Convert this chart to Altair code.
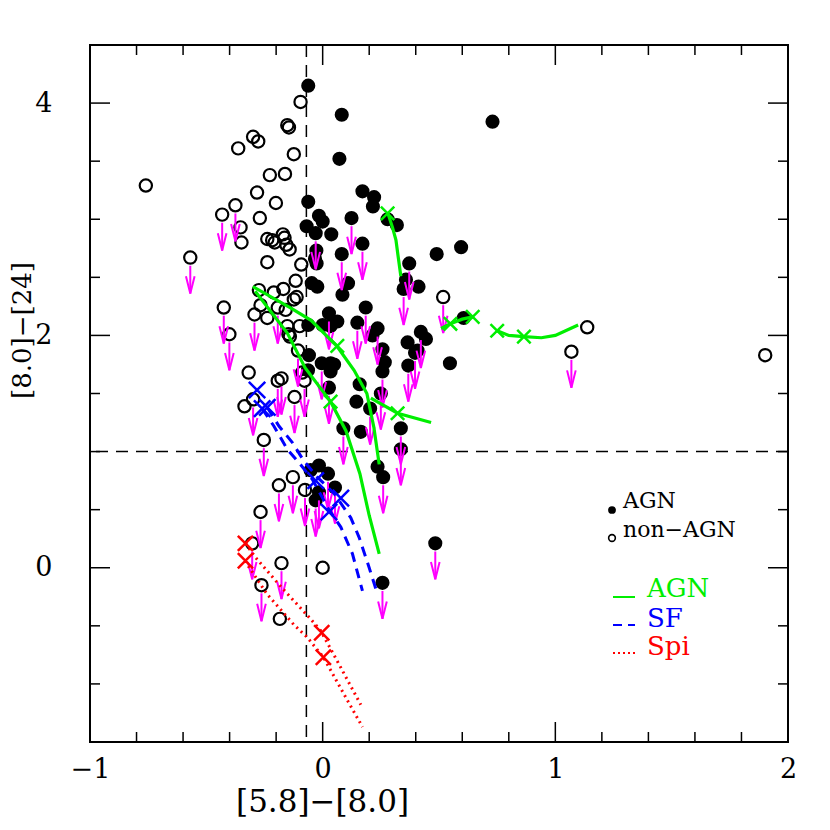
import altair as alt
import pandas as pd

# ---------------- data ----------------
# non-AGN sources (open circles); lim = 1 -> upper limit in [8.0]-[24]
open_x = [-0.76, -0.095, -0.152, -0.145, -0.299, -0.277, -0.363, -0.124, -0.227, -0.162,
          -0.282, -0.201, -0.375, -0.432, -0.270, -0.353, -0.349, -0.569, -0.238, -0.217,
          -0.206, -0.171, -0.164, -0.156, -0.142, -0.238, -0.092, -0.116, -0.274, -0.210,
          -0.169, -0.124, -0.112, -0.267, -0.293, -0.193, -0.159, -0.238, -0.425, -0.401,
          -0.152, -0.099, -0.147, -0.141, -0.106, -0.318, -0.193, -0.177, -0.078, -0.088,
          -0.121, -0.299, -0.336, -0.253, -0.128, -0.188, -0.076, -0.267, -0.303, -0.177,
          0.000, -0.263, -0.184, 0.518, 1.137, 1.069, 1.902]
open_y = [3.29, 4.01, 3.81, 3.79, 3.71, 3.67, 3.61, 3.56, 3.38, 3.39,
          3.23, 3.14, 3.12, 3.04, 3.01, 2.93, 2.80, 2.67, 2.83, 2.82,
          2.80, 2.87, 2.84, 2.78, 2.74, 2.63, 2.61, 2.47, 2.39, 2.37,
          2.40, 2.31, 2.33, 2.26, 2.18, 2.24, 2.22, 2.15, 2.24, 2.01,
          2.08, 2.08, 2.01, 1.99, 1.87, 1.68, 1.61, 1.63, 1.61, 1.68,
          1.47, 1.45, 1.39, 1.10, 0.78, 0.71, 0.67, 0.48, 0.21, 0.04,
          0.00, -0.15, -0.44, 2.33, 2.07, 1.86, 1.83]
open_lim = [0, 0, 0, 0, 0, 0, 0, 0, 0, 0,
            0, 0, 1, 1, 0, 0, 0, 1, 0, 0,
            0, 0, 0, 0, 0, 0, 0, 0, 0, 0,
            0, 0, 0, 0, 1, 1, 0, 0, 1, 1,
            0, 0, 0, 0, 1, 0, 1, 1, 1, 0,
            1, 1, 0, 1, 1, 1, 1, 1, 1, 1,
            0, 1, 0, 1, 0, 1, 0]

# AGN sources (filled circles)
agn_x = [-0.062, 0.082, 0.072, 0.730, 0.171, 0.221, 0.216, -0.062, -0.016, 0.000,
         0.124, -0.069, -0.030, 0.037, 0.279, 0.319, 0.171, -0.027, -0.033, -0.026,
         0.082, 0.109, -0.047, -0.023, 0.085, 0.372, 0.358, 0.348, 0.412, 0.490,
         0.595, 0.606, 0.185, 0.149, 0.027, 0.000, 0.034, 0.063, -0.062, 0.236,
         0.214, 0.422, 0.444, 0.365, 0.257, 0.267, 0.257, 0.397, 0.408, 0.368,
         0.547, -0.059, -0.063, -0.004, 0.034, 0.049, 0.034, 0.027, 0.159, 0.145,
         0.204, 0.250, 0.089, 0.164, 0.336, 0.336, 0.236, 0.260, -0.052, -0.016,
         0.023, 0.053, -0.016, -0.030, 0.484, 0.257]
agn_y = [4.15, 3.90, 3.52, 3.84, 3.24, 3.19, 3.11, 3.15, 3.03, 2.98,
         3.01, 2.94, 2.88, 2.87, 3.00, 2.95, 2.79, 2.73, 2.66, 2.62,
         2.70, 2.45, 2.45, 2.42, 2.35, 2.62, 2.48, 2.40, 2.42, 2.70,
         2.76, 2.15, 2.24, 2.11, 2.19, 2.09, 2.08, 2.12, 2.09, 2.06,
         2.00, 2.03, 1.97, 1.94, 1.88, 1.77, 1.69, 1.85, 1.87, 1.74,
         1.76, 1.83, 1.70, 1.76, 1.76, 1.75, 1.69, 1.55, 1.58, 1.43,
         1.37, 1.50, 1.20, 1.17, 1.20, 1.02, 0.87, 0.78, 0.84, 0.88,
         0.81, 0.69, 0.65, 0.58, 0.21, -0.13]
agn_lim = [0, 0, 0, 0, 0, 0, 0, 0, 0, 0,
           1, 0, 1, 0, 0, 0, 1, 0, 0, 0,
           1, 0, 0, 0, 0, 1, 0, 1, 0, 0,
           0, 0, 1, 1, 1, 0, 0, 0, 0, 1,
           0, 1, 0, 0, 0, 0, 1, 1, 0, 1,
           0, 0, 0, 1, 0, 0, 0, 1, 0, 0,
           1, 1, 1, 0, 1, 1, 0, 1, 0, 0,
           1, 1, 1, 1, 1, 1]

# AGN model tracks (green)
agn_trk_id = ["a1"] * 5 + ["a2"] * 8 + ["a3"] * 8 + ["a4"] * 3 + ["a5"] * 4 + ["a6"] * 6
agn_trk_x = [0.279, 0.300, 0.315, 0.325, 0.336,
             -0.300, -0.140, -0.050, 0.060, 0.135, 0.190, 0.220, 0.243,
             -0.290, -0.152, -0.075, 0.034, 0.100, 0.160, 0.200, 0.243,
             0.207, 0.322, 0.466,
             0.509, 0.549, 0.600, 0.645,
             0.750, 0.800, 0.865, 0.940, 1.000, 1.098]
agn_trk_y = [3.06, 2.93, 2.82, 2.67, 2.51,
             2.42, 2.24, 2.13, 1.91, 1.70, 1.50, 1.21, 0.89,
             2.38, 2.02, 1.72, 1.43, 1.18, 0.81, 0.45, 0.12,
             1.46, 1.33, 1.25,
             2.06, 2.10, 2.14, 2.16,
             2.04, 2.00, 1.99, 1.98, 2.00, 2.09]
agn_mark_x = [0.279, 0.063, 0.034, 0.322, 0.549, 0.645, 0.750, 0.865]
agn_mark_y = [3.05, 1.91, 1.43, 1.33, 2.10, 2.16, 2.04, 1.99]

# star-forming tracks (blue dashed)
sf_trk_id = ["s1"] * 9 + ["s2"] * 10
sf_trk_x = [-0.260, -0.210, -0.152, -0.100, -0.044, 0.027, 0.078, 0.128, 0.171,
            -0.238, -0.188, -0.131, -0.081, -0.023, 0.049, 0.121, 0.157, 0.200, 0.236]
sf_trk_y = [1.37, 1.22, 1.02, 0.90, 0.76, 0.50, 0.35, 0.12, -0.20,
            1.38, 1.22, 1.08, 0.92, 0.78, 0.64, 0.43, 0.26, 0.00, -0.23]
sf_mark_x = [-0.282, -0.260, -0.238, -0.030, 0.078, 0.027]
sf_mark_y = [1.53, 1.37, 1.38, 0.75, 0.60, 0.48]

# spiral tracks (red dotted)
spi_trk_id = ["p1"] * 7 + ["p2"] * 8
spi_trk_x = [-0.332, -0.289, -0.181, -0.066, -0.009, 0.078, 0.164,
             -0.332, -0.325, -0.238, -0.124, -0.066, 0.003, 0.092, 0.171]
spi_trk_y = [0.21, 0.09, -0.16, -0.41, -0.54, -0.86, -1.18,
             0.06, 0.03, -0.23, -0.49, -0.60, -0.77, -1.09, -1.37]
spi_mark_x = [-0.332, -0.332, -0.004, 0.003]
spi_mark_y = [0.21, 0.06, -0.56, -0.77]

# selection cuts
cut_x = [-0.07]
cut_y = [1.0]

# axis ticks
x_major = [-1, 0, 1, 2]
x_minor = [-0.8, -0.6, -0.4, -0.2, 0.2, 0.4, 0.6, 0.8, 1.2, 1.4, 1.6, 1.8]
y_major = [0, 2, 4]
y_minor = [-1.0, -0.5, 0.5, 1.0, 1.5, 2.5, 3.0, 3.5]

# ---------------- chart ----------------
W, H = 698, 697
FONT = "DejaVu Serif"
GREEN, BLUE, RED, MAG = "#00ee00", "#0000ff", "#ff0000", "#ff00ff"
XSHAPE = "M -1 -1 L 1 1 M -1 1 L 1 -1"
VHEAD = "M -1 -4 L 0 0 L 1 -4"

xs = alt.Scale(domain=[-1, 2], nice=False, zero=False)
ys = alt.Scale(domain=[-1.5, 4.5], nice=False, zero=False)

x_axis = alt.Axis(values=x_major, format="d", ticks=False, tickSize=0, domain=False, grid=False,
                  labelFlush=False, labelOverlap=False,
                  labelFont=FONT, labelFontSize=27, labelPadding=14, labelColor="black",
                  title="[5.8]−[8.0]", titleFont=FONT, titleFontSize=31, titleFontWeight="normal",
                  titleColor="black", titleX=232, titlePadding=5)
y_axis = alt.Axis(values=y_major, format="d", ticks=False, tickSize=0, domain=False, grid=False,
                  labelFlush=False, labelOverlap=False,
                  labelFont=FONT, labelFontSize=27, labelPadding=38, labelColor="black",
                  title="[8.0]−[24]", titleFont=FONT, titleFontSize=26, titleFontWeight="normal",
                  titleColor="black", titleY=285, titleX=-55, titleBaseline="bottom", titleAngle=270)


def XF(field):
    return alt.X(field, scale=xs, axis=x_axis)


def YF(field):
    return alt.Y(field, scale=ys, axis=y_axis)


open_df = pd.DataFrame({"x": open_x, "y": open_y, "lim": open_lim})
agn_df = pd.DataFrame({"x": agn_x, "y": agn_y, "lim": agn_lim})
lim_df = pd.concat([open_df, agn_df], ignore_index=True)

open_pts = alt.Chart(open_df).mark_point(shape="circle", filled=False, color="black",
                                          size=150, strokeWidth=2.2, opacity=1).encode(
    x=XF("x:Q"), y=YF("y:Q"))
agn_pts = alt.Chart(agn_df).mark_circle(color="black", size=200, opacity=1).encode(
    x=XF("x:Q"), y=YF("y:Q"))

lim_base = alt.Chart(lim_df).transform_filter("datum.lim == 1").transform_calculate(
    y0="datum.y - 0.07", y1="datum.y - 0.31")
arrow_shaft = lim_base.mark_rule(color=MAG, strokeWidth=2).encode(
    x=XF("x:Q"), y=YF("y0:Q"), y2="y1:Q")
arrow_head = lim_base.mark_point(shape=VHEAD, filled=False, color=MAG, size=75,
                                 strokeWidth=2, opacity=1).encode(
    x=XF("x:Q"), y=YF("y1:Q"))


def track(ids, xv, yv, color, dash, width):
    df = pd.DataFrame({"id": ids, "x": xv, "y": yv, "i": list(range(len(xv)))})
    if dash:
        m = alt.Chart(df).mark_line(color=color, strokeWidth=width, strokeDash=dash)
    else:
        m = alt.Chart(df).mark_line(color=color, strokeWidth=width)
    return m.encode(x=XF("x:Q"), y=YF("y:Q"), detail="id:N", order="i:Q")


def crosses(xv, yv, color, size):
    df = pd.DataFrame({"x": xv, "y": yv})
    return alt.Chart(df).mark_point(shape=XSHAPE, filled=False, color=color, size=size,
                                    strokeWidth=2.5, opacity=1).encode(x=XF("x:Q"), y=YF("y:Q"))


agn_line = track(agn_trk_id, agn_trk_x, agn_trk_y, GREEN, None, 3.2)
sf_line = track(sf_trk_id, sf_trk_x, sf_trk_y, BLUE, [10, 7], 3)
spi_line = track(spi_trk_id, spi_trk_x, spi_trk_y, RED, [2, 4], 3)
agn_x_m = crosses(agn_mark_x, agn_mark_y, GREEN, 180)
sf_x_m = crosses(sf_mark_x, sf_mark_y, BLUE, 270)
spi_x_m = crosses(spi_mark_x, spi_mark_y, RED, 230)

vcut = alt.Chart(pd.DataFrame({"x": cut_x})).mark_rule(
    color="black", strokeWidth=1.5, strokeDash=[12, 8]).encode(x=XF("x:Q"))
hcut = alt.Chart(pd.DataFrame({"y": cut_y})).mark_rule(
    color="black", strokeWidth=1.5, strokeDash=[12, 8]).encode(y=YF("y:Q"))


def xticks(vals, length):
    b = alt.Chart(pd.DataFrame({"x": vals})).mark_rule(color="black", strokeWidth=1.5)
    return [b.encode(x=XF("x:Q"), y=alt.value(H), y2=alt.value(H - length)),
            b.encode(x=XF("x:Q"), y=alt.value(0), y2=alt.value(length))]


def yticks(vals, length):
    b = alt.Chart(pd.DataFrame({"y": vals})).mark_rule(color="black", strokeWidth=1.5)
    return [b.encode(y=YF("y:Q"), x=alt.value(0), x2=alt.value(length)),
            b.encode(y=YF("y:Q"), x=alt.value(W), x2=alt.value(W - length))]


tick_layers = xticks(x_major, 20) + xticks(x_minor, 10) + yticks(y_major, 20) + yticks(y_minor, 10)

# ---- legend (pixel placement inside the plot) ----
one = pd.DataFrame({"a": [0]})


def ltext(t, px, py, color, fs):
    return alt.Chart(pd.DataFrame({"t": [t]})).mark_text(
        align="left", baseline="alphabetic", font=FONT, fontSize=fs, color=color).encode(
        x=alt.value(px), y=alt.value(py), text="t:N")


leg = [
    alt.Chart(one).mark_circle(color="black", size=60, opacity=1).encode(x=alt.value(522), y=alt.value(465)),
    ltext("AGN", 533, 463, "black", 22),
    alt.Chart(one).mark_point(shape="circle", filled=False, color="black", size=45,
                              strokeWidth=1.6, opacity=1).encode(x=alt.value(522), y=alt.value(493)),
    ltext("non−AGN", 533, 492, "black", 22),
    alt.Chart(one).mark_rule(color=GREEN, strokeWidth=2).encode(
        x=alt.value(523), x2=alt.value(545), y=alt.value(552)),
    ltext("AGN", 557, 552, GREEN, 26),
    alt.Chart(one).mark_rule(color=BLUE, strokeWidth=2, strokeDash=[9, 6]).encode(
        x=alt.value(523), x2=alt.value(545), y=alt.value(580)),
    ltext("SF", 557, 582, BLUE, 26),
    alt.Chart(one).mark_rule(color=RED, strokeWidth=2, strokeDash=[2, 3]).encode(
        x=alt.value(523), x2=alt.value(545), y=alt.value(608)),
    ltext("Spi", 557, 610, RED, 26),
]

chart = alt.layer(
    open_pts, vcut, hcut, agn_pts, arrow_shaft, arrow_head,
    agn_line, sf_line, spi_line, agn_x_m, sf_x_m, spi_x_m,
    *tick_layers, *leg
).properties(
    width=W, height=H,
    autosize=alt.AutoSizeParams(type="none"),
    padding={"left": 82, "top": 37, "right": 30, "bottom": 78},
    background="white",
).configure_view(stroke="black", strokeWidth=2)

chart.save("out.html", embed_options={"renderer": "svg", "actions": False})
